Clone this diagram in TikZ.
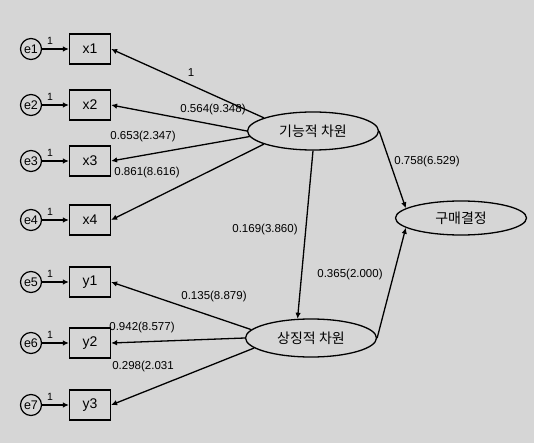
\documentclass[tikz,border=0pt]{standalone}
\usepackage{fontspec}
\setmainfont{Liberation Sans}
\newfontfamily\kofont{Noto Sans CJK KR}
\usetikzlibrary{arrows.meta,shapes.geometric}
\definecolor{bg}{RGB}{214,214,214}
\begin{document}
\begin{tikzpicture}[x=1pt,y=-1pt,
 err/.style={circle,draw,line width=1.2pt,minimum size=21pt,inner sep=0pt,font=\fontsize{12.5}{14}\selectfont},
 obs/.style={rectangle,draw,line width=1.2pt,minimum width=41pt,minimum height=30pt,inner sep=0pt,font=\fontsize{14}{16}\selectfont},
 lat/.style={ellipse,draw,line width=1.3pt,inner sep=0pt,minimum width=131pt,minimum height=38pt,font=\kofont\fontsize{14}{16}\selectfont},
 arr/.style={line width=1.3pt,-{Latex[length=6pt,width=5.5pt]}},
 lab/.style={inner sep=0pt,font=\fontsize{11.5}{13}\selectfont},
 one/.style={inner sep=0pt,font=\fontsize{10.5}{12}\selectfont}]
\fill[bg] (0,0) rectangle (534,443);
\useasboundingbox (0,0) rectangle (534,443);

% latent variables
\node[lat] (F) at (313,131) {기능적 차원};
\node[lat] (P) at (461,218) [minimum height=34pt] {구매결정};
\node[lat] (S) at (311,338) {상징적 차원};

% observed and error nodes
\foreach \n/\e/\yy in {x1/e1/49, x2/e2/105, x3/e3/161, x4/e4/220, y1/e5/282, y2/e6/343, y3/e7/405}{
  \node[obs] (\n) at (90,\yy) {\n};
  \node[err] (\e) at (31,\yy) {\e};
  \draw[arr] (\e) -- (\n) node[one,pos=0.3,above=4pt] (o\e) {1};
}

% loadings
\draw[arr] (F.165) -- (x1.east);
\draw[arr] (F.west) -- (x2.east);
\draw[arr] (F.185) -- (x3.east);
\draw[arr] (F.195) -- (x4.east);
\draw[arr] (S.172) -- (y1.east);
\draw[arr] (S.west) -- (y2.east);
\draw[arr] (S.190) -- (y3.east);

% structural paths
\draw[arr] (F.south) -- (S.125);
\draw[arr] (F.east) -- (P.170);
\draw[arr] (S.east) -- (P.190);

% labels
\node[lab] (l1) at (191,73) {1};
\node[lab] (a1) at (213,110) {0.564(9.348)};
\node[lab] (a2) at (143,137) {0.653(2.347)};
\node[lab] (a3) at (147,173) {0.861(8.616)};
\node[lab] (a4) at (265,230) {0.169(3.860)};
\node[lab] (a5) at (427,162) {0.758(6.529)};
\node[lab] (a6) at (350,275) {0.365(2.000)};
\node[lab] (a7) at (214,297) {0.135(8.879)};
\node[lab] (a8) at (142,328) {0.942(8.577)};
\node[lab] (a9) at (143,367) {0.298(2.031};
\end{tikzpicture}
\end{document}
